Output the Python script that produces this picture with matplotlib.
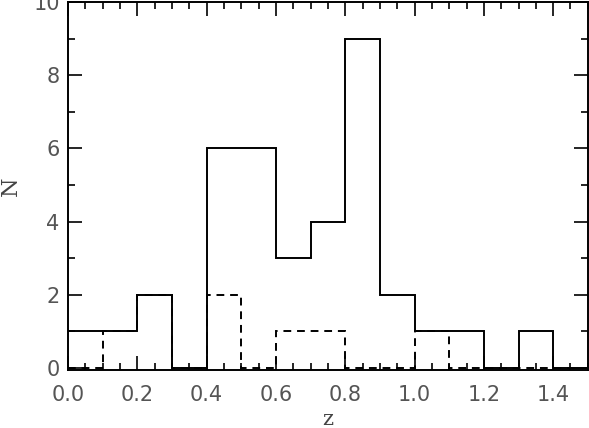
import numpy as np
import matplotlib.pyplot as plt
from matplotlib.ticker import MultipleLocator

# histogram bins in z (width 0.1)
edges = [0.0, 0.1, 0.2, 0.3, 0.4, 0.5, 0.6, 0.7, 0.8, 0.9, 1.0, 1.1, 1.2, 1.3, 1.4, 1.5]
n_all = [1, 1, 2, 0, 6, 6, 3, 4, 9, 2, 1, 1, 0, 1, 0]
n_sub = [0, 1, 2, 0, 2, 0, 1, 1, 0, 0, 1, 0, 0, 0, 0]

fig = plt.figure(figsize=(5.89, 4.28), dpi=100)
ax = fig.add_axes([0.1155, 0.136, 0.8825, 0.859])

ax.stairs(n_all, edges, baseline=None, color='black', linewidth=1.4)
ax.stairs(n_sub, edges, baseline=None, color='black', linewidth=1.4,
          linestyle=(0, (4, 3)))

ax.set_xlim(0, 1.5)
ax.set_ylim(-0.05, 10)
ax.xaxis.set_major_locator(MultipleLocator(0.2))
ax.xaxis.set_minor_locator(MultipleLocator(0.05))
ax.yaxis.set_major_locator(MultipleLocator(2))
ax.yaxis.set_minor_locator(MultipleLocator(1))
ax.xaxis.set_major_formatter(plt.FormatStrFormatter('%.1f'))

ax.tick_params(which='both', direction='in', top=True, right=True,
               labelsize=15, labelcolor='#555555', width=1.2)
ax.tick_params(which='major', length=10)
ax.tick_params(axis='x', which='major', pad=11)
ax.tick_params(axis='y', which='major', pad=6)
ax.tick_params(which='minor', length=5)
for s in ax.spines.values():
    s.set_linewidth(1.4)

ax.set_xlabel('z', fontsize=15, family='DejaVu Serif', color='#444444')
ax.set_ylabel('N', fontsize=16, family='DejaVu Serif', color='#444444')
ax.xaxis.set_label_coords(0.5, -0.11)
ax.yaxis.set_label_coords(-0.088, 0.5)

fig.savefig('out.png', dpi=100)
